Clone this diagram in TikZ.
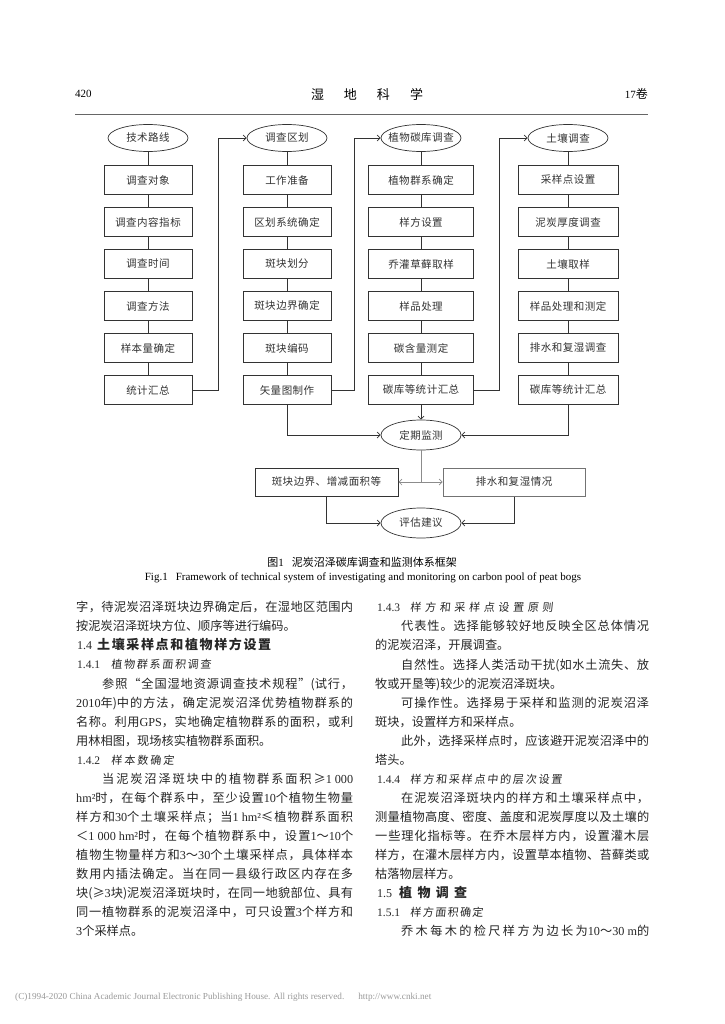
\documentclass[tikz,border=0pt]{standalone}
\usepackage{fontspec}
\setmainfont{Noto Sans CJK SC}
\newfontfamily\lat{Liberation Serif}
\newfontfamily\kai[FakeSlant=0.1]{Noto Sans CJK SC}
\usetikzlibrary{shapes.geometric,arrows.meta}
% inter-character glue for CJK so that justified lines can stretch
\newskip\cjkgap \cjkgap=0pt plus 1pt
\newcount\cc
\cc="4E00 \loop\ifnum\cc<"A000 \XeTeXcharclass\cc=7 \advance\cc by 1 \repeat
\cc="3000 \loop\ifnum\cc<"3040 \XeTeXcharclass\cc=7 \advance\cc by 1 \repeat
\cc="FF00 \loop\ifnum\cc<"FFF0 \XeTeXcharclass\cc=7 \advance\cc by 1 \repeat
\XeTeXcharclass"201C=7 \XeTeXcharclass"201D=7
\XeTeXcharclass"2264=7 \XeTeXcharclass"2265=7
\XeTeXinterchartoks 7 7 = {\hskip\cjkgap\relax}
\XeTeXinterchartokenstate=1
\definecolor{ln}{gray}{0.2}
\newcommand\bodyfont{\fontsize{12.2}{14}\selectfont}
\newcommand\dfont{\fontsize{10.5}{12}\selectfont\cjkgap=0.5pt\relax}
\tikzset{
  ell/.style={ellipse,draw=ln,line width=0.7pt,minimum width=80pt,minimum height=27pt,inner sep=0pt,font=\dfont,text=black!80},
  bx/.style={rectangle,draw=ln,line width=1pt,minimum height=29pt,inner sep=0pt,font=\dfont,text=black!80},
  conn/.style={draw=ln,line width=0.7pt},
  arr/.style={conn,-{Straight Barb[length=3pt,width=6pt]}},
  tl/.style={anchor=base west,inner sep=0pt,font=\bodyfont,text=black!85},
}
\newcommand\JL[3]{\node[tl] (#1) at (76,#2) {\hbox to 277pt{#3}};}
\newcommand\LL[3]{\node[tl] (#1) at (76,#2) {#3};}
\newcommand\JR[3]{\node[tl] (#1) at (375,#2) {\hbox to 274pt{#3}};}
\newcommand\LR[3]{\node[tl] (#1) at (375,#2) {#3};}
\newcommand\ind{\hskip 26pt}
\newcommand\la[1]{{\lat\hbox{#1}}}
\newcommand\hd[3]{{\lat\fontsize{11.5}{14}\selectfont #1}\hskip #2\hbox to #3}
\begin{document}
\begin{tikzpicture}[x=1pt,y=-1pt]
\useasboundingbox[fill=white] (0,0) rectangle (724,1024);
% header
\node[anchor=west,inner sep=0pt] (pg) at (75,94) {\lat\fontsize{11}{13}\selectfont 420};
\node[inner sep=0pt] (jt) at (367,94) {\fontsize{13}{15}\selectfont 湿\hskip 20pt 地\hskip 20pt 科\hskip 20pt 学};
\node[anchor=east,inner sep=0pt] (vol) at (648,94) {{\lat\fontsize{11}{13}\selectfont 17}{\fontsize{12}{14}\selectfont 卷}};
\draw[black!60,line width=1pt] (75,115) -- (648,115);
% diagram: top ellipses
\node[ell] (e1) at (148,138) {\makebox[0pt]{技术路线}};
\node[ell] (e2) at (287,138) {\makebox[0pt]{调查区划}};
\node[ell] (e3) at (421,138) {\makebox[0pt]{植物碳库调查}};
\node[ell] (e4) at (568,138) {\makebox[0pt]{土壤调查}};
% column 1
\node[bx,minimum width=88pt] (a1) at (148,180) {调查对象};
\node[bx,minimum width=88pt] (a2) at (148,222) {调查内容指标};
\node[bx,minimum width=88pt] (a3) at (148,264) {调查时间};
\node[bx,minimum width=88pt] (a4) at (148,306) {调查方法};
\node[bx,minimum width=88pt] (a5) at (148,348) {样本量确定};
\node[bx,minimum width=88pt] (a6) at (148,390) {统计汇总};
% column 2
\node[bx,minimum width=88pt] (b1) at (287,180) {工作准备};
\node[bx,minimum width=88pt] (b2) at (287,222) {区划系统确定};
\node[bx,minimum width=88pt] (b3) at (287,264) {斑块划分};
\node[bx,minimum width=88pt] (b4) at (287,306) {斑块边界确定};
\node[bx,minimum width=88pt] (b5) at (287,348) {斑块编码};
\node[bx,minimum width=88pt] (b6) at (287,390) {矢量图制作};
% column 3
\node[bx,minimum width=105pt] (c1) at (421,180) {植物群系确定};
\node[bx,minimum width=105pt] (c2) at (421,222) {样方设置};
\node[bx,minimum width=105pt] (c3) at (421,264) {乔灌草藓取样};
\node[bx,minimum width=105pt] (c4) at (421,306) {样品处理};
\node[bx,minimum width=105pt] (c5) at (421,348) {碳含量测定};
\node[bx,minimum width=105pt] (c6) at (421,390) {碳库等统计汇总};
% column 4
\node[bx,minimum width=100pt] (d1) at (568,180) {采样点设置};
\node[bx,minimum width=100pt] (d2) at (568,222) {泥炭厚度调查};
\node[bx,minimum width=100pt] (d3) at (568,264) {土壤取样};
\node[bx,minimum width=100pt] (d4) at (568,306) {样品处理和测定};
\node[bx,minimum width=100pt] (d5) at (568,348) {排水和复湿调查};
\node[bx,minimum width=100pt] (d6) at (568,390) {碳库等统计汇总};
% vertical chains
\draw[conn] (e1) -- (a1) (a1) -- (a2) (a2) -- (a3) (a3) -- (a4) (a4) -- (a5) (a5) -- (a6);
\draw[conn] (e2) -- (b1) (b1) -- (b2) (b2) -- (b3) (b3) -- (b4) (b4) -- (b5) (b5) -- (b6);
\draw[conn] (e3) -- (c1) (c1) -- (c2) (c2) -- (c3) (c3) -- (c4) (c4) -- (c5) (c5) -- (c6);
\draw[conn] (e4) -- (d1) (d1) -- (d2) (d2) -- (d3) (d3) -- (d4) (d4) -- (d5) (d5) -- (d6);
% cross-column connectors
\draw[arr] (a6.east) -- ++(26,0) |- (e2.west);
\draw[arr] (b6.east) -- ++(23,0) |- (e3.west);
\draw[arr] (c6.east) -- ++(25,0) |- (e4.west);
% monitoring
\node[ell,minimum height=30pt] (m) at (421,435) {\makebox[0pt]{定期监测}};
\draw[arr] (b6.south) |- (m.west);
\draw[arr] (c6.south) -- (m.north);
\draw[arr] (d6.south) |- (m.east);
\node[bx,minimum width=143pt,minimum height=28pt] (ba) at (326.5,482) {斑块边界、增减面积等};
\node[bx,draw=black!55,minimum width=142pt,minimum height=28pt] (bb) at (514,482) {排水和复湿情况};
\coordinate (sp) at (421,482);
\draw[conn,draw=black!45] (m.south) -- (sp);
\draw[arr,draw=black!45] (sp) -- (ba.east);
\draw[arr,draw=black!45] (sp) -- (bb.west);
\node[ell,minimum height=30pt] (p) at (421,523) {\makebox[0pt]{评估建议}};
\draw[arr] (ba.south) |- (p.west);
\draw[arr] (bb.south) |- (p.east);
% captions
\node[inner sep=0pt] (cap1) at (362,562) {\fontsize{11}{13}\selectfont 图{\lat 1}\hskip 8pt 泥炭沼泽碳库调查和监测体系框架};
\node[inner sep=0pt] (cap2) at (363,578) {\lat\fontsize{11}{13}\selectfont Fig.1\hskip 8pt Framework of technical system of investigating and monitoring on carbon pool of peat bogs};
% left column
\JL{l1}{611.5}{字，待泥炭沼泽斑块边界确定后，在湿地区范围内}
\LL{l2}{630.5}{按泥炭沼泽斑块方位、顺序等进行编码。}
\node[tl] (l3) at (77,649.5) {{\lat\fontsize{12}{14}\selectfont 1.4}\hskip 5pt\hbox to 174pt{\bfseries\fontsize{13}{15}\selectfont 土壤采样点和植物样方设置}};
\node[tl] (l4) at (77,668.5) {\hd{1.4.1}{11pt}{100pt}{\kai\fontsize{11}{13}\selectfont 植物群系面积调查}};
\JL{l5}{688.5}{\ind 参照“全国湿地资源调查技术规程”(试行，}
\JL{l6}{707.5}{\la{2010}年)中的方法，确定泥炭沼泽优势植物群系的}
\JL{l7}{726.5}{名称。利用\la{GPS}，实地确定植物群系的面积，或利}
\LL{l8}{745.5}{用林相图，现场核实植物群系面积。}
\node[tl] (l9) at (77,764.5) {\hd{1.4.2}{11pt}{63pt}{\kai\fontsize{11}{13}\selectfont 样本数确定}};
\JL{l10}{783.5}{\ind 当泥炭沼泽斑块中的植物群系面积≥\la{1 000}}
\JL{l11}{802.5}{\la{hm²}时，在每个群系中，至少设置\la{10}个植物生物量}
\JL{l12}{821.5}{样方和\la{30}个土壤采样点；当\la{1 hm²}≤植物群系面积}
\JL{l13}{840.5}{＜\la{1 000 hm²}时，在每个植物群系中，设置\la{1}～\la{10}个}
\JL{l14}{859.5}{植物生物量样方和\la{3}～\la{30}个土壤采样点，具体样本}
\JL{l15}{878.5}{数用内插法确定。当在同一县级行政区内存在多}
\JL{l16}{897.5}{块(≥\la{3}块)泥炭沼泽斑块时，在同一地貌部位、具有}
\JL{l17}{916.5}{同一植物群系的泥炭沼泽中，可只设置\la{3}个样方和}
\LL{l18}{935.5}{\la{3}个采样点。}
% right column
\node[tl] (r1) at (377,611.5) {\hd{1.4.3}{10pt}{143pt}{\kai\fontsize{11}{13}\selectfont 样方和采样点设置原则}};
\JR{r2}{630.5}{\ind 代表性。选择能够较好地反映全区总体情况}
\LR{r3}{649.5}{的泥炭沼泽，开展调查。}
\JR{r4}{669.5}{\ind 自然性。选择人类活动干扰(如水土流失、放}
\LR{r5}{688.5}{牧或开垦等)较少的泥炭沼泽斑块。}
\JR{r6}{707.5}{\ind 可操作性。选择易于采样和监测的泥炭沼泽}
\LR{r7}{726.5}{斑块，设置样方和采样点。}
\JR{r8}{745.5}{\ind 此外，选择采样点时，应该避开泥炭沼泽中的}
\LR{r9}{764.5}{塔头。}
\node[tl] (r10) at (377,783.5) {\hd{1.4.4}{10pt}{152pt}{\kai\fontsize{11}{13}\selectfont 样方和采样点中的层次设置}};
\JR{r11}{802.5}{\ind 在泥炭沼泽斑块内的样方和土壤采样点中，}
\JR{r12}{821.5}{测量植物高度、密度、盖度和泥炭厚度以及土壤的}
\JR{r13}{840.5}{一些理化指标等。在乔木层样方内，设置灌木层}
\JR{r14}{859.5}{样方，在灌木层样方内，设置草本植物、苔藓类或}
\LR{r15}{878.5}{枯落物层样方。}
\node[tl] (r16) at (377,897.5) {{\lat\fontsize{12}{14}\selectfont 1.5}\hskip 7pt\hbox to 68pt{\bfseries\fontsize{13}{15}\selectfont 植物调查}};
\node[tl] (r17) at (377,916.5) {\hd{1.5.1}{10pt}{73pt}{\kai\fontsize{11}{13}\selectfont 样方面积确定}};
\JR{r18}{935.5}{\ind 乔木每木的检尺样方为边长为\la{10}～\la{30 m}的}
% footer
\node[anchor=west,inner sep=0pt,text=black!40] (ft) at (15,997) {\lat\fontsize{9.2}{11}\selectfont (C)1994-2020 China Academic Journal Electronic Publishing House. All rights reserved.\hskip 14pt http://www.cnki.net};
\end{tikzpicture}
\end{document}
